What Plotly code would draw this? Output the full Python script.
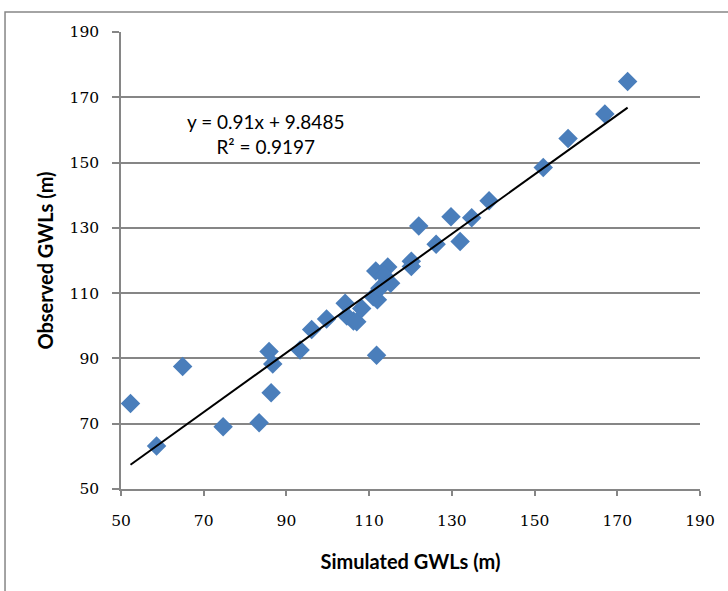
import plotly.graph_objects as go

# Data
simulated = [52.3, 58.6, 64.9, 74.7, 83.4, 85.8, 86.7, 86.3, 93.3, 96.1,
             99.7, 104.2, 104.6, 106.2, 107.0, 108.2, 111.0, 112.0, 112.6, 111.8,
             111.6, 114.5, 113.5, 115.2, 120.2, 120.2, 122.0, 126.2, 132.0, 129.8,
             134.8, 139.0, 152.1, 158.1, 167.0, 172.5]
observed = [76.2, 63.2, 87.5, 69.1, 70.3, 92.1, 88.3, 79.5, 92.6, 98.9,
            102.1, 106.9, 103.0, 101.5, 101.2, 105.3, 108.9, 108.0, 111.5, 91.0,
            116.8, 118.0, 115.5, 113.0, 119.8, 118.2, 130.6, 125.0, 125.8, 133.4,
            133.1, 138.3, 148.5, 157.4, 164.9, 174.8]

trend_slope = 0.91
trend_intercept = 9.8485
r_squared = 0.9197

tick_vals = [50, 70, 90, 110, 130, 150, 170, 190]
tick_text = ["50", "70", "90", "110", "130", "150", "170", "190"]

x_title = "Simulated GWLs (m)"
y_title = "Observed GWLs (m)"

tick_font = dict(family="DejaVu Serif, Liberation Serif, serif", size=15.5, color="#000000")
title_font = dict(family="Lato, Open Sans, Arial", size=20, color="#000000")

fig = go.Figure()

fig.add_trace(go.Scatter(
    x=simulated, y=observed, mode="markers",
    marker=dict(symbol="diamond", size=15, color="#4A7EBB", line=dict(width=0)),
    showlegend=False, hoverinfo="x+y"))

x_min, x_max = min(simulated), max(simulated)
fig.add_trace(go.Scatter(
    x=[x_min, x_max],
    y=[trend_slope * x_min + trend_intercept, trend_slope * x_max + trend_intercept],
    mode="lines", line=dict(color="#000000", width=2),
    showlegend=False, hoverinfo="skip"))

fig.update_layout(
    width=728, height=591,
    margin=dict(l=121, r=28, t=32, b=102),
    paper_bgcolor="#FFFFFF", plot_bgcolor="#FFFFFF",
    xaxis=dict(range=[50, 190], tickvals=tick_vals, ticktext=tick_text,
               showgrid=False, zeroline=False, showline=True, linecolor="#868686", linewidth=1.5,
               ticks="outside", ticklen=5, tickcolor="#868686", tickwidth=1.5,
               tickfont=tick_font, ticklabelstandoff=12, automargin=False,
               title=dict(text="<b>" + x_title + "</b>", font=title_font, standoff=26),
               fixedrange=True),
    yaxis=dict(range=[50, 190], tickvals=tick_vals, ticktext=tick_text,
               showgrid=True, gridcolor="#868686", gridwidth=1.5,
               zeroline=False, showline=True, linecolor="#868686", linewidth=1.5,
               ticks="outside", ticklen=7, tickcolor="#868686", tickwidth=1.5,
               tickfont=tick_font, ticklabelstandoff=10, automargin=False,
               title=dict(text="<b>" + y_title + "</b>", font=title_font, standoff=11),
               fixedrange=True),
    annotations=[dict(
        xref="paper", yref="paper", x=0.249, y=0.776,
        text="y = %.2fx + %.4f<br>R² = %.4f" % (trend_slope, trend_intercept, r_squared),
        showarrow=False, align="center", xanchor="center", yanchor="middle",
        font=dict(family="Lato, Open Sans, Arial", size=19, color="#000000"))],
    shapes=[dict(type="rect", xref="paper", yref="paper",
                 x0=-0.2003, y0=-0.3, x1=1.2, y1=1.0438,
                 line=dict(color="#868686", width=1.5), fillcolor="rgba(0,0,0,0)", layer="below")],
)

fig.write_html("out.html", config={"displayModeBar": False},
               post_script="document.body.style.margin='0px';")
